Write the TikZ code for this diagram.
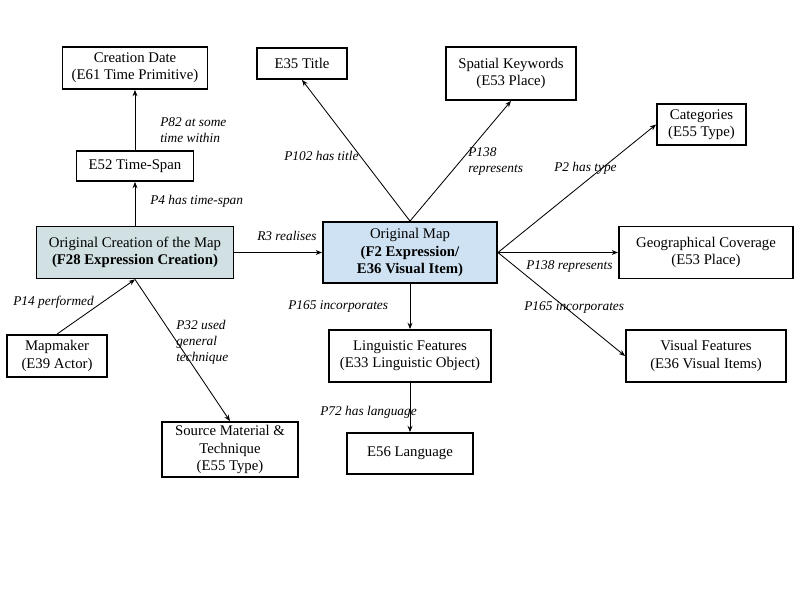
\documentclass[tikz,border=0pt]{standalone}
\usepackage{fontspec}
\setmainfont{Liberation Serif}
\usetikzlibrary{arrows.meta}
\definecolor{creationfill}{HTML}{D0E0E3}
\definecolor{mapfill}{HTML}{CFE2F3}

\begin{document}
\begin{tikzpicture}[x=0.025cm,y=-0.025cm,
  box/.style={draw,line width=1.3pt,align=center,inner sep=1pt,font=\fontsize{10.5}{12.2}\selectfont},
  lbl/.style={anchor=west,align=left,inner sep=0pt,font=\fontsize{9.5}{11.4}\selectfont\itshape},
  rel/.style={line width=0.6pt,-{Stealth[length=4.5pt,width=3.5pt]}}]
\useasboundingbox (0,0) rectangle (800,600);
\node[box,minimum width=3.625cm,minimum height=1.05cm] (date) at (135,68) {Creation Date\\(E61 Time Primitive)};
\node[box,minimum width=2.925cm,minimum height=0.75cm] (span) at (135,166) {E52 Time-Span};
\node[box,fill=creationfill,minimum width=4.925cm,minimum height=1.3cm] (creation) at (135,252.5) {Original Creation of the Map\\\textbf{(F28 Expression Creation)}};
\node[box,minimum width=2.5cm,minimum height=1.05cm] (maker) at (57,356) {Mapmaker\\(E39 Actor)};
\node[box,minimum width=3.4cm,minimum height=1.375cm] (source) at (230,449.5) {Source Material \&\\Technique\\(E55 Type)};
\node[box,minimum width=2.25cm,minimum height=0.775cm] (title) at (302,63.5) {E35 Title};
\node[box,minimum width=3.25cm,minimum height=1.325cm] (spatial) at (511,73.5) {Spatial Keywords\\(E53 Place)};
\node[box,minimum width=2.225cm,minimum height=1.025cm] (cat) at (701.5,124.5) {Categories\\(E55 Type)};
\node[box,fill=mapfill,minimum width=4.35cm,minimum height=1.525cm] (map) at (410,252.5) {Original Map\\\textbf{(F2 Expression/}\\\textbf{E36 Visual Item)}};
\node[box,minimum width=4.35cm,minimum height=1.3cm] (cover) at (706,252.5) {Geographical Coverage\\(E53 Place)};
\node[box,minimum width=4cm,minimum height=1.3cm] (visual) at (706,356) {Visual Features\\(E36 Visual Items)};
\node[box,minimum width=4.05cm,minimum height=1.3cm] (ling) at (410,356) {Linguistic Features\\(E33 Linguistic Object)};
\node[box,minimum width=3.15cm,minimum height=1.025cm] (lang) at (410,453.5) {E56 Language};
\draw[rel] (span) -- (date);
\draw[rel] (creation) -- (span);
\draw[rel] (creation) -- (map);
\draw[rel] (maker.north) -- (creation.south);
\draw[rel] (creation.south) -- (source.north);
\draw[rel] (map.north) -- (title.south);
\draw[rel] (map.north) -- (spatial.south);
\draw[rel] (map.east) -- (cat.west);
\draw[rel] (map.east) -- (cover.west);
\draw[rel] (map.east) -- (visual.west);
\draw[rel] (map) -- (ling);
\draw[rel] (ling) -- (lang);
\node[lbl] (l82) at (160,130) {P82 at some\\time within};
\node[lbl] (l4) at (150,201) {P4 has time-span};
\node[lbl] (l3) at (257,236) {R3 realises};
\node[lbl] (l14) at (13,302) {P14 performed};
\node[lbl] (l32) at (176,342) {P32 used\\general\\technique};
\node[lbl] (l102) at (284,156) {P102 has title};
\node[lbl] (l138a) at (468,161.5) {P138\\represents};
\node[lbl] (l2) at (554,168) {P2 has type};
\node[lbl] (l138b) at (526,266) {P138 represents};
\node[lbl] (l165a) at (524,307) {P165 incorporates};
\node[lbl] (l165b) at (288,306) {P165 incorporates};
\node[lbl] (l72) at (320,412) {P72 has language};
\end{tikzpicture}
\end{document}
